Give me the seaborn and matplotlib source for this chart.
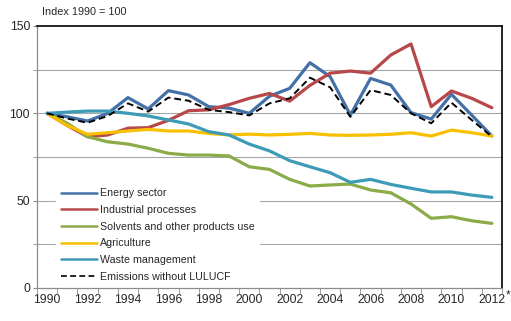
import matplotlib
matplotlib.use("Agg")
import matplotlib.pyplot as plt
import seaborn as sns
import pandas as pd
import numpy as np
from matplotlib.ticker import FixedLocator

years = list(range(1990, 2013))

energy = [100, 98, 95.6, 100, 109, 102.5, 113, 110.5, 103.8, 103, 100,
          109.8, 114.3, 129, 121, 99, 120, 116.2, 100.4, 96.7, 110.9, 99, 87]
industrial = [100, 93, 86.6, 87.6, 91.5, 91.8, 96, 101.5, 102, 105, 108.6,
              111.4, 107, 116, 123, 124.2, 123, 133.4, 139.7, 103.8, 112.8, 108.6, 103.2]
solvents = [100, 94.3, 86.6, 83.7, 82.4, 80, 77.1, 76.1, 76.1, 75.6, 69.4,
            67.9, 62.2, 58.4, 59, 59.5, 56.1, 54.5, 48.1, 39.9, 40.8, 38.5, 37]
agriculture = [100, 93, 88, 88.9, 89.9, 90.8, 89.9, 89.9, 88.5, 87.6, 88.1,
               87.6, 88, 88.5, 87.6, 87.4, 87.6, 88, 88.9, 87, 90.4, 88.9, 87]
waste = [100, 100.7, 101.3, 101.3, 100, 98.5, 96.2, 93.9, 89.5, 87.6, 82.4,
         78.5, 72.9, 69.4, 66, 60.5, 62.2, 59.3, 57.1, 55, 55, 53.2, 51.9]
total = [100, 97, 94.6, 98.5, 105.7, 101, 109, 107.2, 102, 100.7, 98.8,
         105.7, 108.6, 120.4, 114.9, 98, 113.3, 110.5, 100, 94.3, 106.1, 96.2, 86.6]

series = {
    "Energy sector": (energy, "#4470a8", "-", 2.3),
    "Industrial processes": (industrial, "#b8474a", "-", 2.3),
    "Solvents and other products use": (solvents, "#8aab47", "-", 2.3),
    "Agriculture": (agriculture, "#f8c000", "-", 2.3),
    "Waste management": (waste, "#3d9bb7", "-", 2.3),
    "Emissions without LULUCF": (total, "black", (0, (3.5, 2)), 1.4),
}

sns.set_style("white")
plt.rcParams["font.family"] = ["Liberation Sans", "DejaVu Sans"]

fig = plt.figure(figsize=(5.11, 3.21), dpi=100)
ax = fig.add_axes([37 / 511, 1 - 288 / 321, 465 / 511, 262 / 321])

idx = np.arange(len(years))
for name, (vals, color, ls, lw) in series.items():
    df = pd.DataFrame({"i": idx, "v": vals})
    sns.lineplot(data=df, x="i", y="v", ax=ax, color=color, linewidth=lw,
                 linestyle=ls, label=name)

ax.set_xlim(-0.5, len(years) - 0.5)
ax.set_ylim(0, 150)
ax.set_xlabel("")
ax.set_ylabel("")

# y axis: labels every 50, gridlines every 25
ax.set_yticks([0, 50, 100, 150])
ax.set_yticklabels(["0", "50", "100", "150"])
ax.yaxis.set_minor_locator(FixedLocator([25, 75, 125]))
for g in [25, 50, 75, 100, 125]:
    ax.axhline(g, color="#a6a6a6", linewidth=0.8, zorder=0)
ax.tick_params(axis="y", which="both", length=3, color="#8c8c8c", left=True,
               labelsize=8.8, pad=2)

# x axis: category labels every other year, ticks between categories
ax.set_xticks(idx[::2])
ax.set_xticklabels([str(y) for y in years[::2]])
ax.xaxis.set_minor_locator(FixedLocator(np.arange(-0.5, len(years), 1.0)))
ax.tick_params(axis="x", which="major", length=0, labelsize=8.8, pad=4)
ax.tick_params(axis="x", which="minor", length=4, color="#8c8c8c", bottom=True)
ax.text(1.007, -0.004, "*", transform=ax.transAxes, fontsize=8.5, va="top", ha="left")

for s in ["left", "bottom"]:
    ax.spines[s].set_color("#8c8c8c")
    ax.spines[s].set_linewidth(0.9)
for s in ["top", "right"]:
    ax.spines[s].set_color("black")
    ax.spines[s].set_linewidth(1.2)

fig.text(42 / 511, 1 - 12 / 321, "Index 1990 = 100", fontsize=7.8, va="center")

leg = ax.legend(loc="lower left", bbox_to_anchor=(0.037, 0.0), frameon=True,
                fontsize=7.7, handlelength=3.4, handletextpad=0.25,
                labelspacing=0.62, borderaxespad=0.2, borderpad=0.4)
leg.get_frame().set_facecolor("white")
leg.get_frame().set_edgecolor("white")
leg.get_frame().set_alpha(1)
leg.set_zorder(5)
for line in leg.get_lines():
    line.set_linewidth(1.8 if line.get_color() != "black" else 1.2)

fig.savefig("out.png", dpi=100)
